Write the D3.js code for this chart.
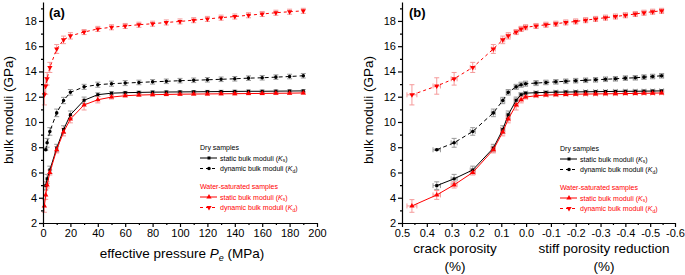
<!DOCTYPE html>
<html>
<head>
<meta charset="utf-8">
<script src="https://d3js.org/d3.v7.min.js"></script>
<style>
  body { margin: 0; background: #fff; }
  svg { display: block; font-family: "Liberation Sans", Arial, sans-serif; }
  .axis path, .axis line { stroke: #000; stroke-width: 1.2; }
  .axis text { font-size: 11px; fill: #000; }
  .lbl { font-size: 13.5px; fill: #000; }
  .leg { font-size: 7px; }
</style>
</head>
<body>
<svg id="chart" width="685" height="275"></svg>
<script>
// effective pressure steps (MPa)
const pressSat = [1,2,3,5,10,15,20,30,40,50,60,70,80,90,100,110,120,130,140,150,160,170,180,190];
const pressDry = pressSat.slice(1);

// panel (b) x positions: crack porosity (>0) / stiff porosity reduction (<0), %
const porSat = [0.46,0.36,0.29,0.215,0.132,0.094,0.072,0.04,0.02,0.002,-0.04,-0.08,-0.12,-0.16,-0.2,-0.24,-0.28,-0.32,-0.36,-0.4,-0.44,-0.475,-0.51,-0.546];
const porDry = porSat.slice(1);
const porErrSat = [0.02,0.015,0.012,0.01,0.008,0.008,0.008,0.008,0.008,0.008,0.008,0.008,0.008,0.008,0.008,0.008,0.008,0.008,0.008,0.008,0.008,0.008,0.008,0.008];
const porErrDry = porErrSat.slice(1);

// dry samples
const dryStatic = [4.96,5.5,6.2,7.93,9.4,10.57,11.72,12.16,12.28,12.32,12.34,12.36,12.37,12.38,12.39,12.4,12.41,12.42,12.43,12.43,12.44,12.45,12.46];
const dryStaticErr = [0.3,0.35,0.3,0.3,0.3,0.3,0.25,0.15,0.12,0.1,0.1,0.1,0.1,0.1,0.1,0.1,0.1,0.1,0.1,0.1,0.1,0.1,0.1];
const dryDynamic = [7.8,8.35,9.25,10.72,11.7,12.35,12.78,12.95,13.03,13.08,13.13,13.18,13.22,13.27,13.3,13.34,13.38,13.42,13.47,13.5,13.55,13.6,13.66];
const dryDynamicErr = [0.06,0.35,0.3,0.3,0.25,0.22,0.2,0.2,0.2,0.2,0.18,0.18,0.18,0.18,0.18,0.18,0.18,0.18,0.18,0.18,0.18,0.18,0.18];

// water-saturated samples
const satStatic = [3.35,4.22,5.02,6.0,7.8,9.2,10.23,11.35,11.76,11.97,12.08,12.13,12.16,12.18,12.2,12.21,12.22,12.23,12.24,12.25,12.26,12.27,12.28,12.3];
const satStaticErr = [0.5,0.35,0.25,0.2,0.25,0.3,0.3,0.4,0.25,0.15,0.1,0.1,0.1,0.1,0.1,0.1,0.1,0.1,0.1,0.1,0.1,0.1,0.1,0.1];
const satDynamic = [12.15,12.85,13.42,14.32,15.78,16.5,16.82,17.12,17.37,17.5,17.6,17.7,17.78,17.88,17.96,18.06,18.16,18.26,18.35,18.45,18.55,18.65,18.73,18.8];
const satDynamicErr = [0.8,0.65,0.5,0.4,0.35,0.3,0.25,0.2,0.2,0.2,0.2,0.2,0.2,0.2,0.2,0.2,0.2,0.2,0.2,0.2,0.2,0.2,0.2,0.2];

const yTicks = [2,4,6,8,10,12,14,16,18];
const yMinor = [3,5,7,9,11,13,15,17,19];
const xTicksA = [0,20,40,60,80,100,120,140,160,180,200];
const xTicksB = [5,4,3,2,1,0,-1,-2,-3,-4,-5,-6].map(v => v / 10);

const svg = d3.select("#chart");
const y = d3.scaleLinear().domain([2, 19.5]).range([223, 2]);
const xA = d3.scaleLinear().domain([0, 200]).range([43, 317]);
const xB = d3.scaleLinear().domain([0.5, -0.6]).range([402, 675]);

const series = [
  {key: "dryStatic", color: "#000", err: "#9a9a9a", dash: null, sym: d3.symbolSquare, size: 9, rot: 0},
  {key: "dryDynamic", color: "#000", err: "#9a9a9a", dash: "4,3", sym: d3.symbolCircle, size: 10, rot: 0},
  {key: "satStatic", color: "#ff0000", err: "#f59a9a", dash: null, sym: d3.symbolTriangle, size: 12, rot: 0},
  {key: "satDynamic", color: "#ff0000", err: "#f59a9a", dash: "3,3", sym: d3.symbolTriangle, size: 12, rot: 180}
];

function seriesData(key, panel) {
  const dry = key.startsWith("dry");
  const vals = {dryStatic, dryDynamic, satStatic, satDynamic}[key];
  const errs = {dryStatic: dryStaticErr, dryDynamic: dryDynamicErr, satStatic: satStaticErr, satDynamic: satDynamicErr}[key];
  const xs = panel === "a" ? (dry ? pressDry : pressSat) : (dry ? porDry : porSat);
  const xe = dry ? porErrDry : porErrSat;
  return vals.map((v, i) => ({x: xs[i], y: v, e: errs[i], xe: panel === "b" ? xe[i] : 0}));
}

function drawPanel(panel, x, xTicks, xMinor, fmt) {
  const g = svg.append("g");

  // error bars
  series.forEach(s => {
    const data = seriesData(s.key, panel);
    const eb = g.append("g").attr("stroke", s.err).attr("stroke-width", 1).attr("fill", "none");
    data.forEach(d => {
      const cx = x(d.x);
      eb.append("line").attr("x1", cx).attr("x2", cx).attr("y1", y(d.y - d.e)).attr("y2", y(d.y + d.e));
      eb.append("line").attr("x1", cx - 2.5).attr("x2", cx + 2.5).attr("y1", y(d.y - d.e)).attr("y2", y(d.y - d.e));
      eb.append("line").attr("x1", cx - 2.5).attr("x2", cx + 2.5).attr("y1", y(d.y + d.e)).attr("y2", y(d.y + d.e));
      if (d.xe > 0) {
        const cy = y(d.y);
        eb.append("line").attr("x1", x(d.x - d.xe)).attr("x2", x(d.x + d.xe)).attr("y1", cy).attr("y2", cy);
        eb.append("line").attr("x1", x(d.x - d.xe)).attr("x2", x(d.x - d.xe)).attr("y1", cy - 2.5).attr("y2", cy + 2.5);
        eb.append("line").attr("x1", x(d.x + d.xe)).attr("x2", x(d.x + d.xe)).attr("y1", cy - 2.5).attr("y2", cy + 2.5);
      }
    });
  });

  // lines and markers
  const line = d3.line().x(d => x(d.x)).y(d => y(d.y));
  series.forEach(s => {
    const data = seriesData(s.key, panel);
    g.append("path").datum(data)
      .attr("d", line)
      .attr("fill", "none")
      .attr("stroke", s.color)
      .attr("stroke-width", 1)
      .attr("stroke-dasharray", s.dash);
    g.selectAll(null).data(data).join("path")
      .attr("d", d3.symbol().type(s.sym).size(s.size))
      .attr("transform", d => `translate(${x(d.x)},${y(d.y)}) rotate(${s.rot})`)
      .attr("fill", s.color);
  });

  // axes
  const xAxis = g.append("g").attr("class", "axis").attr("transform", "translate(0,223)");
  xAxis.call(d3.axisBottom(x).tickValues(xTicks).tickFormat(fmt).tickSize(4).tickSizeOuter(0).tickPadding(2));
  xAxis.append("g").call(d3.axisBottom(x).tickValues(xMinor).tickFormat("").tickSize(2).tickSizeOuter(0))
    .select(".domain").remove();

  const yAxis = g.append("g").attr("class", "axis").attr("transform", `translate(${x.range()[0]},0)`);
  yAxis.call(d3.axisLeft(y).tickValues(yTicks).tickSize(4).tickSizeOuter(0).tickPadding(2));
  yAxis.append("g").call(d3.axisLeft(y).tickValues(yMinor).tickFormat("").tickSize(2).tickSizeOuter(0))
    .select(".domain").remove();
  g.selectAll(".axis text").attr("font-family", null).attr("font-size", null);

  return g;
}

const gA = drawPanel("a", xA, xTicksA, d3.range(10, 200, 20), d3.format("d"));
const gB = drawPanel("b", xB, xTicksB, xTicksB.slice(0, -1).map(v => v - 0.05),
  d => d3.format(".1f")(d).replace("\u2212", "-"));

// panel letters
svg.append("text").attr("x", 49).attr("y", 17).attr("font-size", 13).attr("font-weight", "bold").text("(a)");
svg.append("text").attr("x", 409).attr("y", 17).attr("font-size", 13).attr("font-weight", "bold").text("(b)");

// y labels
[13, 373].forEach(px => {
  svg.append("text").attr("class", "lbl")
    .attr("transform", `translate(${px},110) rotate(-90)`)
    .attr("text-anchor", "middle")
    .text("bulk moduli (GPa)");
});

// x labels
const xl = svg.append("text").attr("class", "lbl").attr("x", 182).attr("y", 258).attr("text-anchor", "middle");
xl.append("tspan").text("effective pressure ");
xl.append("tspan").attr("font-style", "italic").text("P");
xl.append("tspan").attr("font-style", "italic").attr("font-size", 9).attr("dy", 3).text("e");
xl.append("tspan").attr("dy", -3).text(" (MPa)");

svg.append("text").attr("class", "lbl").attr("x", 455).attr("y", 253).attr("text-anchor", "middle").text("crack porosity");
svg.append("text").attr("class", "lbl").attr("x", 455).attr("y", 271).attr("text-anchor", "middle").text("(%)");
svg.append("text").attr("class", "lbl").attr("x", 604).attr("y", 253).attr("text-anchor", "middle").text("stiff porosity reduction");
svg.append("text").attr("class", "lbl").attr("x", 604).attr("y", 271).attr("text-anchor", "middle").text("(%)");

// legends
const legendRows = [
  {title: "Dry samples", color: "#000", items: [series[0], series[1]]},
  {title: "Water-saturated samples", color: "#ff0000", items: [series[2], series[3]]}
];
function drawLegend(x0, y0) {
  const lg = svg.append("g").attr("class", "leg");
  legendRows.forEach((grp, gi) => {
    const gy = y0 + gi * 39;
    lg.append("text").attr("x", x0).attr("y", gy).attr("fill", grp.color).text(grp.title);
    grp.items.forEach((s, i) => {
      const ry = gy + 8 + i * 10.5;
      lg.append("line").attr("x1", x0).attr("x2", x0 + 17).attr("y1", ry).attr("y2", ry)
        .attr("stroke", s.color).attr("stroke-width", 1).attr("stroke-dasharray", s.dash ? "3,3" : null);
      lg.append("path").attr("d", d3.symbol().type(s.sym).size(s.size)())
        .attr("transform", `translate(${x0 + 9},${ry}) rotate(${s.rot})`).attr("fill", s.color);
      const t = lg.append("text").attr("x", x0 + 20).attr("y", ry + 2.5).attr("fill", s.color);
      t.append("tspan").text((s.key.endsWith("Static") ? "static" : "dynamic") + " bulk moduli (");
      t.append("tspan").attr("font-style", "italic").text("K");
      t.append("tspan").attr("font-size", 5).attr("dy", 1.5).text(s.key.endsWith("Static") ? "s" : "d");
      t.append("tspan").attr("dy", -1.5).text(")");
    });
  });
}
drawLegend(200, 150);
drawLegend(560, 151);
</script>
</body>
</html>
